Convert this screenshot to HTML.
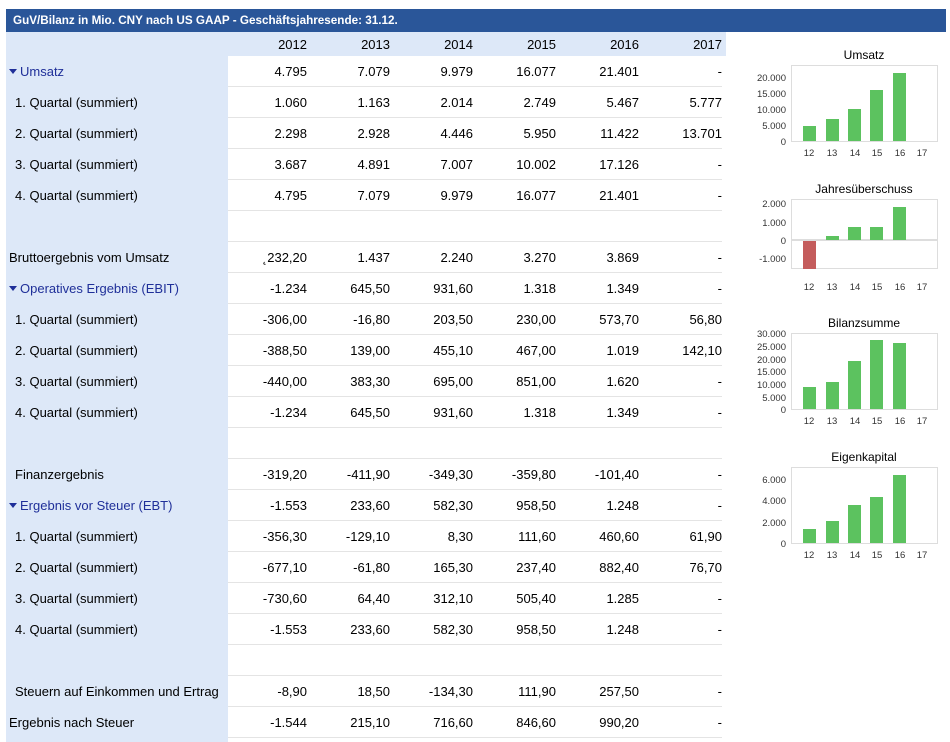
<!DOCTYPE html>
<html><head><meta charset="utf-8"><style>
body{margin:0;width:950px;height:742px;background:#fff;font-family:"Liberation Sans",Arial,sans-serif;font-size:13px;color:#000;position:relative;overflow:hidden}
.t{position:absolute;left:6px;top:9px;width:940px;height:23px;background:#2a5699;color:#fff;font-weight:bold;font-size:11.7px;line-height:23px;text-indent:7px}
.h{position:absolute;left:6px;top:32px;width:720px;height:24px;background:#dde8f8}
.lc{position:absolute;left:6px;top:56px;width:222px;height:686px;background:#dde8f8}
table{position:absolute;left:6px;top:32px;border-collapse:collapse;table-layout:fixed;width:716px}
td{height:30px;padding:0;border-bottom:1px solid #e4e4e4;text-align:right;white-space:nowrap;overflow:visible}
td.l{text-align:left;border-bottom:1px solid #dde8f8}
tr.hd td{height:24px;border:none}
.i{padding-left:9px}.n{padding-left:3px}
.b{color:#1f2f99;padding-left:3px}
.b:before{content:"";display:inline-block;border-left:4px solid transparent;border-right:4px solid transparent;border-top:5px solid #1f2f99;margin-right:3px;vertical-align:2px}
</style></head><body>
<div class="t">GuV/Bilanz in Mio. CNY nach US GAAP - Geschäftsjahresende: 31.12.</div>
<div class="h"></div><div class="lc"></div>
<table>
<colgroup><col style="width:222px"><col style="width:79px"><col style="width:83px"><col style="width:83px"><col style="width:83px"><col style="width:83px"><col style="width:83px"></colgroup>
<tr class="hd"><td class="l"></td><td>2012</td><td>2013</td><td>2014</td><td>2015</td><td>2016</td><td>2017</td></tr>
<tr><td class="l b">Umsatz</td><td>4.795</td><td>7.079</td><td>9.979</td><td>16.077</td><td>21.401</td><td>-</td></tr>
<tr><td class="l i">1. Quartal (summiert)</td><td>1.060</td><td>1.163</td><td>2.014</td><td>2.749</td><td>5.467</td><td>5.777</td></tr>
<tr><td class="l i">2. Quartal (summiert)</td><td>2.298</td><td>2.928</td><td>4.446</td><td>5.950</td><td>11.422</td><td>13.701</td></tr>
<tr><td class="l i">3. Quartal (summiert)</td><td>3.687</td><td>4.891</td><td>7.007</td><td>10.002</td><td>17.126</td><td>-</td></tr>
<tr><td class="l i">4. Quartal (summiert)</td><td>4.795</td><td>7.079</td><td>9.979</td><td>16.077</td><td>21.401</td><td>-</td></tr>
<tr><td class="l"></td><td></td><td></td><td></td><td></td><td></td><td></td></tr>
<tr><td class="l n">Bruttoergebnis vom Umsatz</td><td>˛232,20</td><td>1.437</td><td>2.240</td><td>3.270</td><td>3.869</td><td>-</td></tr>
<tr><td class="l b">Operatives Ergebnis (EBIT)</td><td>-1.234</td><td>645,50</td><td>931,60</td><td>1.318</td><td>1.349</td><td>-</td></tr>
<tr><td class="l i">1. Quartal (summiert)</td><td>-306,00</td><td>-16,80</td><td>203,50</td><td>230,00</td><td>573,70</td><td>56,80</td></tr>
<tr><td class="l i">2. Quartal (summiert)</td><td>-388,50</td><td>139,00</td><td>455,10</td><td>467,00</td><td>1.019</td><td>142,10</td></tr>
<tr><td class="l i">3. Quartal (summiert)</td><td>-440,00</td><td>383,30</td><td>695,00</td><td>851,00</td><td>1.620</td><td>-</td></tr>
<tr><td class="l i">4. Quartal (summiert)</td><td>-1.234</td><td>645,50</td><td>931,60</td><td>1.318</td><td>1.349</td><td>-</td></tr>
<tr><td class="l"></td><td></td><td></td><td></td><td></td><td></td><td></td></tr>
<tr><td class="l i">Finanzergebnis</td><td>-319,20</td><td>-411,90</td><td>-349,30</td><td>-359,80</td><td>-101,40</td><td>-</td></tr>
<tr><td class="l b">Ergebnis vor Steuer (EBT)</td><td>-1.553</td><td>233,60</td><td>582,30</td><td>958,50</td><td>1.248</td><td>-</td></tr>
<tr><td class="l i">1. Quartal (summiert)</td><td>-356,30</td><td>-129,10</td><td>8,30</td><td>111,60</td><td>460,60</td><td>61,90</td></tr>
<tr><td class="l i">2. Quartal (summiert)</td><td>-677,10</td><td>-61,80</td><td>165,30</td><td>237,40</td><td>882,40</td><td>76,70</td></tr>
<tr><td class="l i">3. Quartal (summiert)</td><td>-730,60</td><td>64,40</td><td>312,10</td><td>505,40</td><td>1.285</td><td>-</td></tr>
<tr><td class="l i">4. Quartal (summiert)</td><td>-1.553</td><td>233,60</td><td>582,30</td><td>958,50</td><td>1.248</td><td>-</td></tr>
<tr><td class="l"></td><td></td><td></td><td></td><td></td><td></td><td></td></tr>
<tr><td class="l i">Steuern auf Einkommen und Ertrag</td><td>-8,90</td><td>18,50</td><td>-134,30</td><td>111,90</td><td>257,50</td><td>-</td></tr>
<tr><td class="l n">Ergebnis nach Steuer</td><td>-1.544</td><td>215,10</td><td>716,60</td><td>846,60</td><td>990,20</td><td>-</td></tr>
</table>
<svg style="position:absolute;left:0;top:0" width="950" height="742" font-family="Liberation Sans, Arial, sans-serif" font-size="9.5" fill="#333">
<g font-size="12" fill="#000" text-anchor="middle">
<text x="864" y="59">Umsatz</text><text x="864" y="193">Jahresüberschuss</text><text x="864" y="327">Bilanzsumme</text><text x="864" y="461">Eigenkapital</text></g>
<g fill="none" stroke="#ddd"><rect x="791.5" y="65.5" width="146" height="76"/><rect x="791.5" y="199.5" width="146" height="69"/><rect x="791.5" y="333.5" width="146" height="76"/><rect x="791.5" y="467.5" width="146" height="76"/></g>
<line x1="791" y1="240" x2="938" y2="240" stroke="#ddd" stroke-width="2"/>
<g fill="#5cc25f">
<rect x="803" y="126" width="13" height="15"/><rect x="826" y="119" width="13" height="22"/><rect x="848" y="109" width="13" height="32"/><rect x="870" y="90" width="13" height="51"/><rect x="893" y="73" width="13" height="68"/>
<rect x="826" y="236" width="13" height="4"/><rect x="848" y="227" width="13" height="13"/><rect x="870" y="227" width="13" height="13"/><rect x="893" y="207" width="13" height="33"/>
<rect x="803" y="387" width="13" height="22"/><rect x="826" y="382" width="13" height="27"/><rect x="848" y="361" width="13" height="48"/><rect x="870" y="340" width="13" height="69"/><rect x="893" y="343" width="13" height="66"/>
<rect x="803" y="529" width="13" height="14"/><rect x="826" y="521" width="13" height="22"/><rect x="848" y="505" width="13" height="38"/><rect x="870" y="497" width="13" height="46"/><rect x="893" y="475" width="13" height="68"/>
</g>
<rect x="803" y="241" width="13" height="28" fill="#c45c5c"/>
<g text-anchor="end">
<text x="786" y="81">20.000</text><text x="786" y="97">15.000</text><text x="786" y="113">10.000</text><text x="786" y="129">5.000</text><text x="786" y="145">0</text>
<text x="786" y="207">2.000</text><text x="786" y="226">1.000</text><text x="786" y="244">0</text><text x="786" y="262">-1.000</text>
<text x="786" y="337">30.000</text><text x="786" y="350">25.000</text><text x="786" y="363">20.000</text><text x="786" y="375">15.000</text><text x="786" y="388">10.000</text><text x="786" y="401">5.000</text><text x="786" y="413">0</text>
<text x="786" y="483">6.000</text><text x="786" y="504">4.000</text><text x="786" y="526">2.000</text><text x="786" y="547">0</text>
</g>
<g text-anchor="middle">
<text x="809" y="156">12</text><text x="832" y="156">13</text><text x="855" y="156">14</text><text x="877" y="156">15</text><text x="900" y="156">16</text><text x="922" y="156">17</text>
<text x="809" y="290">12</text><text x="832" y="290">13</text><text x="855" y="290">14</text><text x="877" y="290">15</text><text x="900" y="290">16</text><text x="922" y="290">17</text>
<text x="809" y="424">12</text><text x="832" y="424">13</text><text x="855" y="424">14</text><text x="877" y="424">15</text><text x="900" y="424">16</text><text x="922" y="424">17</text>
<text x="809" y="558">12</text><text x="832" y="558">13</text><text x="855" y="558">14</text><text x="877" y="558">15</text><text x="900" y="558">16</text><text x="922" y="558">17</text>
</g>
</svg>
</body></html>
